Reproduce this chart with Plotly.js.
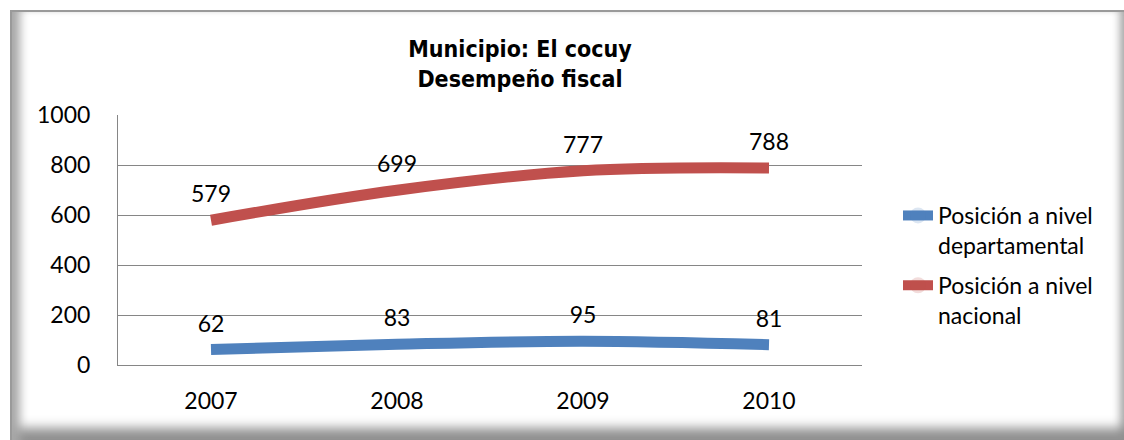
<!DOCTYPE html>
<html><head><meta charset="utf-8">
<script src="https://cdn.plot.ly/plotly-3.0.1.min.js"></script>
<style>
html,body{margin:0;padding:0;background:#fff;}
#frame{position:absolute;left:10px;top:10px;width:1114px;height:430px;box-sizing:border-box;
 border-top:2px solid #9a9a9a;border-left:2px solid #9a9a9a;background:#fff;
 box-shadow: inset 14px 0 10px -6px #a8a8a8, inset 0 -20px 12px -8px #8f8f8f, inset -9px 0 8px -5px #a8a8a8;}
#chart{position:absolute;left:0;top:0;width:1124px;height:440px;}
</style></head>
<body>
<div id="frame"></div>
<div id="chart"></div>
<script>
const years = ['2007','2008','2009','2010'];
const posDepartamental = [62, 83, 95, 81];
const posNacional = [579, 699, 777, 788];
const seriesNames = ['Posición a nivel<br>departamental', 'Posición a nivel<br>nacional'];
const yTicks = [0, 200, 400, 600, 800, 1000];

const bodyFont = 'Lato, Carlito, Calibri, "Open Sans", sans-serif';

function series(y, name, color, group) {
  return {
    x: years, y: y, name: name, type: 'scatter', mode: 'lines+markers+text',
    line: {color: color, width: 11, shape: 'spline'},
    marker: {size: 18, opacity: 0, color: color},
    text: y.map(String), textposition: 'top center',
    textfont: {family: bodyFont, size: 23, color: '#000'},
    legendgroup: group, cliponaxis: false, hoverinfo: 'skip'
  };
}

const data = [
  series(posDepartamental, seriesNames[0], '#4F81BD', 'a'),
  series(posNacional, seriesNames[1], '#C0504D', 'b')
];

const layout = {
  width: 1124, height: 440,
  paper_bgcolor: 'rgba(0,0,0,0)', plot_bgcolor: 'rgba(0,0,0,0)',
  margin: {l: 118, r: 262, t: 115, b: 75},
  title: {
    text: '<b>Municipio: El cocuy<br>Desempeño fiscal</b>',
    font: {family: '"DejaVu Sans Condensed", "Liberation Sans Narrow", "Arial Narrow", sans-serif', size: 23, color: '#000'},
    x: 520/1124, xref: 'container', xanchor: 'center',
    y: 1 - 57/440, yref: 'container', yanchor: 'top'
  },
  xaxis: {
    type: 'category', range: [-0.5, 3.5], showgrid: false,
    showline: true, linecolor: '#868686', linewidth: 1, ticks: '',
    tickfont: {family: bodyFont, size: 23, color: '#000'},
    ticklabelstandoff: 15, zeroline: false, fixedrange: true
  },
  yaxis: {
    range: [0, 1000], tickvals: yTicks, showgrid: true, gridcolor: '#868686', gridwidth: 1,
    showline: true, linecolor: '#868686', linewidth: 1, ticks: '', zeroline: false,
    tickfont: {family: bodyFont, size: 23, color: '#000'},
    ticklabelstandoff: 22, fixedrange: true
  },
  showlegend: true,
  legend: {
    xref: 'container', yref: 'container', x: 898/1124, y: 1 - 194/440,
    xanchor: 'left', yanchor: 'top', valign: 'top',
    font: {family: bodyFont, size: 23, color: '#000'},
    bgcolor: 'rgba(0,0,0,0)', traceorder: 'grouped', tracegroupgap: 7,
    itemwidth: 30
  }
};

Plotly.newPlot('chart', data, layout, {staticPlot: true});
</script>
</body></html>
